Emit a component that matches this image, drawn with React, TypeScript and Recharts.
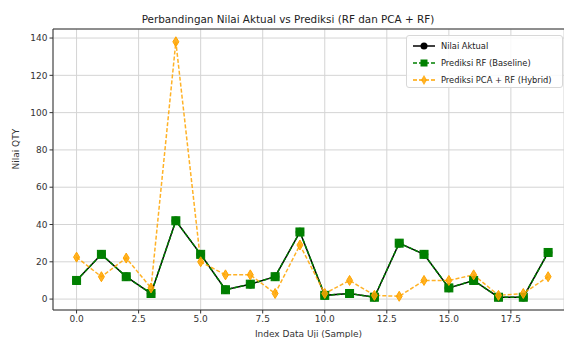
import { CartesianGrid, Line, LineChart, ReferenceLine, XAxis, YAxis } from 'recharts';

const indexes = [0, 1, 2, 3, 4, 5, 6, 7, 8, 9, 10, 11, 12, 13, 14, 15, 16, 17, 18, 19];
const actualValues = [10, 24, 12, 3, 42, 24, 5, 8, 12, 36, 2, 3, 1, 30, 24, 6, 10, 1, 1, 25];
const rfValues = [10, 24, 12, 3, 42, 24, 5, 8, 12, 36, 2, 3, 1, 30, 24, 6, 10, 1, 1, 25];
const hybridValues = [22.5, 12, 22, 6, 138, 20, 13, 13, 3, 29, 3, 10, 2, 1.5, 10, 10, 13, 2, 3, 12];
const xTicks = [0, 2.5, 5, 7.5, 10, 12.5, 15, 17.5];
const yTicks = [0, 20, 40, 60, 80, 100, 120, 140];

const chartData = indexes.map((idx, i) => ({
  idx,
  actual: actualValues[i],
  rf: rfValues[i],
  hybrid: hybridValues[i],
}));

const FONT = '"DejaVu Sans", sans-serif';

const SquareDot = (props: any) => {
  const { cx, cy, index } = props;
  if (cx == null || cy == null) return <g key={`s-${index}`} />;
  return <rect key={`s-${index}`} x={cx - 4} y={cy - 4} width={8} height={8} fill="#008000" stroke="#008000" />;
};

const DiamondDot = (props: any) => {
  const { cx, cy, index } = props;
  if (cx == null || cy == null) return <g key={`d-${index}`} />;
  return (
    <polygon
      key={`d-${index}`}
      points={`${cx},${cy - 5} ${cx + 3},${cy} ${cx},${cy + 5} ${cx - 3},${cy}`}
      fill="#ffa500"
      fillOpacity={0.85}
      stroke="#ffa500"
    />
  );
};

function LegendBox() {
  const rows = [
    { label: 'Nilai Aktual', color: '#000', dash: undefined, marker: 'circle' },
    { label: 'Prediksi RF (Baseline)', color: '#008000', dash: '4 2', marker: 'square' },
    { label: 'Prediksi PCA + RF (Hybrid)', color: '#ffa500', dash: '4 2', marker: 'diamond' },
  ];
  return (
    <div
      style={{
        position: 'absolute',
        left: 406,
        top: 35,
        width: 157,
        height: 53,
        background: 'rgba(255,255,255,0.85)',
        border: '1px solid #d8d8d8',
        borderRadius: 3,
        boxSizing: 'border-box',
        fontFamily: FONT,
        fontSize: 8.3,
        color: '#222',
        paddingTop: 1,
      }}
    >
      {rows.map((r) => (
        <div key={r.label} style={{ display: 'flex', alignItems: 'center', height: 17 }}>
          <svg width={28} height={12} style={{ marginLeft: 4 }}>
            <line x1={2} y1={6} x2={24} y2={6} stroke={r.color} strokeWidth={1.5} strokeDasharray={r.dash} />
            {r.marker === 'circle' && <circle cx={13} cy={6} r={3.5} fill={r.color} />}
            {r.marker === 'square' && <rect x={9.5} y={2.5} width={7} height={7} fill={r.color} />}
            {r.marker === 'diamond' && <polygon points="13,1 16,6 13,11 10,6" fill={r.color} fillOpacity={0.85} />}
          </svg>
          <span style={{ marginLeft: 2, whiteSpace: 'nowrap' }}>{r.label}</span>
        </div>
      ))}
    </div>
  );
}

export default function App() {
  return (
    <div style={{ width: 564, height: 338, background: '#fff', position: 'relative', overflow: 'hidden' }}>
      <style>{`body{margin:0}`}</style>
      <LineChart
        width={564}
        height={338}
        data={chartData}
        margin={{ top: 29, right: 0, left: 0, bottom: 0 }}
        style={{ fontFamily: FONT }}
      >
        <text x={288} y={23} textAnchor="middle" fontSize={10.4} fill="#222" fontFamily={FONT}>
          Perbandingan Nilai Aktual vs Prediksi (RF dan PCA + RF)
        </text>
        <CartesianGrid stroke="#d4d4d4" strokeWidth={1} />
        <XAxis
          dataKey="idx"
          type="number"
          domain={[-0.95, 19.64]}
          allowDataOverflow
          ticks={xTicks}
          tickFormatter={(v: number) => v.toFixed(1)}
          tick={{ fill: '#333', fontSize: 9, fontFamily: FONT }}
          tickSize={3.5}
          tickLine={{ stroke: '#333' }}
          axisLine={{ stroke: '#333' }}
          height={28}
          label={{ value: 'Index Data Uji (Sample)', position: 'insideBottom', offset: 1, fontSize: 9, fill: '#333' }}
        />
        <YAxis
          type="number"
          domain={[-5.85, 144.85]}
          allowDataOverflow
          ticks={yTicks}
          tick={{ fill: '#333', fontSize: 9, fontFamily: FONT }}
          tickSize={3.5}
          tickLine={{ stroke: '#333' }}
          axisLine={{ stroke: '#333' }}
          width={53}
          label={{ value: 'Nilai QTY', angle: -90, position: 'insideLeft', offset: 16, fontSize: 9, fill: '#333' }}
        />
        <ReferenceLine y={144.85} stroke="#333" ifOverflow="extendDomain" />
        <Line
          dataKey="actual"
          stroke="#000"
          strokeWidth={1.5}
          dot={{ r: 3.5, fill: '#000', stroke: '#000' }}
          isAnimationActive={false}
          name="Nilai Aktual"
        />
        <Line
          dataKey="rf"
          stroke="#008000"
          strokeWidth={1.5}
          strokeDasharray="4 2"
          dot={SquareDot}
          isAnimationActive={false}
          name="Prediksi RF (Baseline)"
        />
        <Line
          dataKey="hybrid"
          stroke="#ffa500"
          strokeOpacity={0.85}
          strokeWidth={1.5}
          strokeDasharray="4 2"
          dot={DiamondDot}
          isAnimationActive={false}
          name="Prediksi PCA + RF (Hybrid)"
        />
      </LineChart>
      <LegendBox />
    </div>
  );
}
